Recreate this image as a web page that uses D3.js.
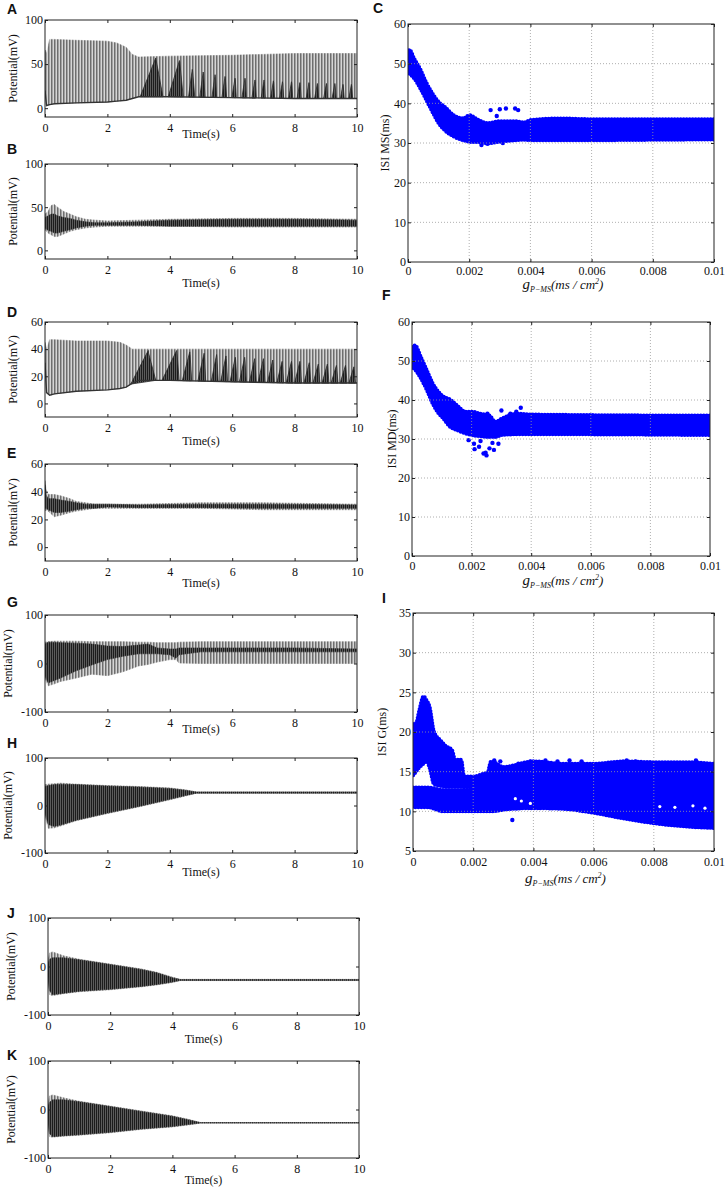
<!DOCTYPE html>
<html>
<head>
<meta charset="utf-8">
<style>
  body { margin: 0; background: #fff; }
  svg { display: block; }
  .tick text { font-family: "Liberation Serif", "Times New Roman", serif; font-size: 12px; }
</style>
<script src="https://d3js.org/d3.v7.min.js"></script>
</head>
<body>
<svg id="fig" width="728" height="1190"></svg>
<script>

// ---- tick labels ----
const timeTicks = [0, 2, 4, 6, 8, 10]
const gTicks = [0, 0.002, 0.004, 0.006, 0.008, 0.01]
const isiTicks = [0, 10, 20, 30, 40, 50, 60]
const isiGTicks = [5, 10, 15, 20, 25, 30, 35]

// ---- A : envelopes (time s, mV) and dark teeth [start, peak, end, peak mV] ----
const tA = [0, 0.05, 0.15, 0.3, 1.0, 2.0, 2.3, 2.6, 2.8, 3.0, 4.0, 6.0, 8.0, 10]
const aHi = [66, 62, 78, 78, 77, 76, 74, 69, 61, 58, 59, 60, 62, 62]
const aLo = [20, 3, 4, 5, 6, 7, 8, 9, 11, 13, 13, 12, 11, 11]
const aTeeth = [
  [3.05, 3.55, 3.78, 57], [3.95, 4.31, 4.43, 54], [4.6, 4.72, 4.8, 44], [4.96, 5.07, 5.13, 41],
  [5.35, 5.45, 5.5, 38], [5.67, 5.77, 5.82, 36], [5.99, 6.09, 6.13, 34], [6.31, 6.41, 6.45, 34],
  [6.63, 6.73, 6.77, 32], [6.93, 7.02, 7.06, 32], [7.23, 7.32, 7.36, 31], [7.52, 7.61, 7.65, 30],
  [7.81, 7.9, 7.94, 30], [8.08, 8.17, 8.21, 29], [8.37, 8.46, 8.5, 29], [8.64, 8.73, 8.77, 28],
  [8.93, 9.02, 9.06, 28], [9.2, 9.29, 9.33, 28], [9.47, 9.55, 9.59, 27], [9.74, 9.82, 9.86, 27]
]

// ---- B ----
const tB = [0, 0.1, 0.2, 0.3, 0.4, 0.6, 0.8, 1.0, 1.3, 1.6, 2.0, 3.0, 4.0, 6.0, 8.0, 10]
const bHi = [42, 45, 52, 53, 50, 45, 42, 39, 36, 35, 34, 35, 36, 37, 37, 36]
const bLo = [24, 20, 18, 16, 16, 19, 22, 24, 26, 27, 28, 28, 28, 27, 27, 27]
const bDkHi = [38, 40, 42, 42, 40, 38, 37, 35, 33, 32, 32, 33, 35, 36, 36, 35]
const bDkLo = [26, 23, 22, 20, 20, 22, 24, 26, 28, 29, 29, 29, 28, 28, 28, 28]

// ---- D ----
const tD = [0, 0.05, 0.15, 0.3, 1.0, 2.0, 2.4, 2.6, 2.8, 3.0, 4.0, 6.0, 8.0, 10]
const dHi = [45, 40, 47, 47, 46, 46, 45, 43, 40, 40, 40, 40, 40, 40]
const dLo = [30, 8, 6, 7, 9, 10, 11, 12, 15, 17, 17, 16, 15, 15]
const dTeeth = [
  [2.75, 3.31, 3.55, 39], [3.75, 4.22, 4.3, 39], [4.4, 4.64, 4.7, 38], [4.9, 5.1, 5.15, 37],
  [5.33, 5.5, 5.55, 36], [5.63, 5.8, 5.85, 35], [5.93, 6.1, 6.15, 34], [6.23, 6.4, 6.45, 34],
  [6.55, 6.72, 6.77, 33], [6.83, 7.0, 7.05, 33], [7.13, 7.3, 7.35, 32], [7.43, 7.6, 7.65, 31],
  [7.73, 7.9, 7.95, 31], [8.0, 8.17, 8.22, 31], [8.3, 8.47, 8.52, 30], [8.59, 8.76, 8.81, 29],
  [8.88, 9.05, 9.1, 29], [9.17, 9.34, 9.39, 28], [9.46, 9.63, 9.68, 28], [9.74, 9.9, 9.95, 27]
]

// ---- E ----
const tE = [0, 0.03, 0.1, 0.3, 0.5, 0.8, 1.0, 1.3, 1.6, 2.0, 3.0, 5.0, 7.0, 10]
const eHi = [48, 42, 38, 38, 37, 35, 33, 32, 31, 31, 31, 32, 32, 31]
const eLo = [26, 27, 26, 22, 23, 25, 26, 27, 28, 28, 28, 28, 27, 27]
const eDkHi = [45, 38, 35, 35, 34, 33, 32, 31, 31, 31, 30.5, 31, 31, 30.5]
const eDkLo = [28, 28, 27, 25, 25, 26, 27, 28, 28, 29, 28.5, 28.5, 28, 28]

// ---- G ----
const tG = [0, 0.1, 0.3, 0.5, 1.0, 1.5, 2.0, 2.5, 3.0, 3.3, 3.6, 4.0, 4.2, 4.3, 5.0, 6.0, 8.0, 10]
const gHi = [44, 45, 46, 46, 46, 45, 45, 45, 44, 44, 43, 43, 43, 44, 45, 45, 45, 45]
const gLo = [-30, -46, -42, -37, -30, -22, -25, -17, -5, -2, 3, 8, 8, 1, 0, 0, 0, 0]
const gDkHi = [40, 44, 44, 43, 42, 40, 36, 35, 38, 40, 32, 30, 30, 32, 32, 32, 32, 30]
const gDkLo = [-25, -40, -35, -30, -15, -3, 8, 15, 20, 20, 20, 18, 11, 18, 24, 24, 24, 24]

// ---- H ----
const tH = [0, 0.1, 0.3, 0.5, 1.0, 2.0, 3.0, 4.0, 4.5, 4.85, 5.0, 10]
const hHi = [44, 45, 46, 47, 45, 42, 40, 37, 33, 28.5, 28.5, 28.5]
const hLo = [-20, -48, -47, -43, -32, -17, -3, 12, 20, 26, 26, 26]
const hDkHi = [40, 42, 44, 45, 44, 41, 39, 36, 32, 28.5, 28.5, 28.5]
const hDkLo = [-15, -40, -44, -41, -31, -16, -2, 13, 21, 26, 26, 26]

// ---- J ----
const tJ = [0, 0.05, 0.15, 0.5, 1.0, 2.0, 3.0, 3.5, 4.0, 4.25, 10]
const jHi = [10, 28, 30, 22, 15, 5, -5, -12, -22, -26.5, -26.5]
const jLo = [-30, -58, -60, -56, -52, -48, -42, -38, -33, -29, -29]
const jDkHi = [5, 15, 18, 18, 14, 4, -6, -13, -23, -26.8, -26.8]
const jDkLo = [-20, -50, -58, -55, -51, -47, -41, -37, -32, -28.8, -28.8]

// ---- K ----
const tK = [0, 0.05, 0.15, 0.5, 1.0, 2.0, 3.0, 4.0, 4.5, 4.9, 10]
const kHi = [10, 28, 30, 24, 17, 7, -3, -13, -20, -27, -27]
const kLo = [-30, -56, -57, -55, -53, -48, -41, -36, -32, -28, -28]
const kDkHi = [5, 15, 20, 20, 16, 6, -4, -14, -21, -27, -27]
const kDkLo = [-20, -50, -56, -54, -52, -47, -40, -35, -31, -28, -28]

// ---- C : ISI MS band (g, ms) ----
const cG = [0, 0.00005, 0.0002, 0.0004, 0.0006, 0.0008, 0.001, 0.0012, 0.0015, 0.0018, 0.002, 0.0023, 0.0026, 0.003, 0.0035, 0.0038, 0.004, 0.005, 0.006, 0.008, 0.01]
const cHi = [52.6, 53.5, 51.3, 48.6, 45.2, 42.5, 40.4, 39.1, 37, 36.2, 37, 35.8, 35, 35.5, 35.5, 35.2, 35.8, 36.2, 36, 36, 36]
const cLo = [48, 47.5, 46.3, 43.8, 40.8, 37.8, 35, 33.2, 31.6, 30.7, 30.3, 30.2, 29.9, 30.3, 30.7, 30.8, 30.7, 30.7, 30.7, 30.8, 30.9]
const cOut = [[0.0024, 29.5], [0.0027, 38.3], [0.003, 38.5], [0.0032, 38.7], [0.0035, 38.7], [0.0036, 38.3], [0.0029, 36.8], [0.0026, 29.8], [0.0031, 30]]

// ---- F : ISI MD band ----
const fG = [0, 0.0001, 0.0003, 0.0005, 0.0007, 0.0009, 0.001, 0.0013, 0.0015, 0.0018, 0.002, 0.0023, 0.0026, 0.0028, 0.003, 0.0035, 0.004, 0.005, 0.01]
const fHi = [53.6, 54, 51, 47.6, 44.2, 42, 41.2, 40, 38.7, 37, 37, 36.5, 36, 34.4, 35.2, 36.5, 36.3, 36.2, 36]
const fLo = [48.5, 47.8, 45.5, 42.5, 39, 36.5, 35.7, 33, 32.3, 31.4, 31, 30.7, 30.5, 30.5, 31, 31.2, 31.2, 31.2, 31]
const fOut = [[0.0019, 29.7], [0.00208, 28.8], [0.00225, 28], [0.0024, 26.3], [0.00247, 26.5], [0.0025, 25.8], [0.0026, 27.6],
  [0.00275, 27.2], [0.0029, 28.8], [0.0021, 27.4], [0.0023, 29.5], [0.0027, 29], [0.00253, 36.5], [0.003, 37.3],
  [0.0033, 36.5], [0.00365, 38], [0.0035, 37]]

// ---- I : ISI G, main band and early hump ----
const iG = [0, 0.0005, 0.001, 0.0015, 0.002, 0.0024, 0.0026, 0.003, 0.004, 0.005, 0.006, 0.007, 0.008, 0.009, 0.01]
const iHi = [13, 13, 12.7, 12.7, 12.8, 13.5, 16.3, 15.6, 16.3, 16, 16, 16.3, 16.2, 16.2, 16]
const iLo = [10.5, 10.5, 10, 10, 10, 10, 10, 10.2, 10.4, 10.3, 9.8, 9.1, 8.5, 8.1, 7.9]
const iHumpG = [0, 0.0001, 0.0002, 0.00035, 0.00045, 0.00055, 0.0007, 0.0009, 0.0011, 0.0013, 0.0014, 0.0016, 0.0017, 0.002, 0.0024, 0.0026]
const iHumpHi = [21, 21.1, 22.6, 24.5, 24, 23.2, 20, 19, 18.2, 17.7, 16.5, 16.5, 14.4, 14.4, 14.8, 15]
const iHumpLo = [14.5, 15, 15.5, 16, 16.3, 15.5, 13.4, 13.2, 13.1, 13.1, 13.1, 13.1, 13.1, 13.2, 13.5, 14]
const iOut = [[0.0033, 8.9], [0.0027, 16.4], [0.0029, 16.3], [0.0035, 16.0], [0.0039, 16.3], [0.0044, 16.4], [0.0048, 16.3],
  [0.0052, 16.4], [0.0056, 16.3], [0.0071, 16.4], [0.0074, 16.3], [0.0094, 16.4]]
const iHoles = [[0.0082, 10.6], [0.0087, 10.5], [0.0093, 10.7], [0.0097, 10.4], [0.0034, 11.6], [0.0036, 11.3], [0.0039, 11.0]]

// ---- layout ----
const layout = {
  A: {x: 45, y: 20, w: 312, h: 97, lab: [7, 14], yl: 13, tl: 21},
  B: {x: 45, y: 164, w: 312, h: 95, lab: [7, 154], yl: 13, tl: 28},
  D: {x: 45, y: 322, w: 312, h: 95, lab: [7, 317], yl: 13, tl: 28},
  E: {x: 45, y: 464, w: 312, h: 97, lab: [7, 458], yl: 13, tl: 26},
  G: {x: 45, y: 615, w: 312, h: 97, lab: [7, 607], yl: 8, tl: 21},
  H: {x: 45, y: 758, w: 312, h: 95, lab: [7, 748], yl: 8, tl: 23},
  J: {x: 48, y: 918, w: 311, h: 97, lab: [7, 918], yl: 11, tl: 28},
  K: {x: 48, y: 1061, w: 311, h: 97, lab: [7, 1060], yl: 11, tl: 26},
  C: {x: 408, y: 24, w: 306, h: 238, lab: [373, 13], yl: 385, tl: 27},
  F: {x: 412, y: 322, w: 298, h: 234, lab: [382, 300], yl: 392, tl: 29},
  I: {x: 413, y: 613, w: 301, h: 238, lab: [382, 603], yl: 382, tl: 32}
}

const BLUE = '#0000ff'
const SERIF = '"Liberation Serif", "Times New Roman", serif'
const svg = d3.select('#fig')
const defs = svg.append('defs')

// vertical-line textures for the dense spike trains
const lp = defs.append('pattern').attr('id', 'lightPat').attr('patternUnits', 'userSpaceOnUse')
  .attr('width', 3).attr('height', 4)
lp.append('rect').attr('width', 3).attr('height', 4).attr('fill', '#d6d6d6')
lp.append('rect').attr('width', 1).attr('height', 4).attr('fill', '#6e6e6e')
lp.append('rect').attr('x', 1).attr('width', 1).attr('height', 4).attr('fill', '#a2a2a2')
const dp = defs.append('pattern').attr('id', 'darkPat').attr('patternUnits', 'userSpaceOnUse')
  .attr('width', 2).attr('height', 4)
dp.append('rect').attr('width', 2).attr('height', 4).attr('fill', '#5c5c5c')
dp.append('rect').attr('width', 1).attr('height', 4).attr('fill', '#1c1c1c')

function panel(key) {
  let L = layout[key]
  let g = svg.append('g').attr('transform', `translate(${L.x},${L.y})`)
  defs.append('clipPath').attr('id', 'clip' + key)
    .append('rect').attr('width', L.w).attr('height', L.h)
  svg.append('text').attr('x', L.lab[0]).attr('y', L.lab[1]).text(key)
    .attr('font-family', 'Arial, "Liberation Sans", sans-serif').attr('font-weight', 'bold')
    .attr('font-size', 14).attr('fill', '#111')
  let plot = g.append('g').attr('clip-path', `url(#clip${key})`)
  return {L, g, plot}
}

function axes(g, L, x, y, xTicks, yTicks, xPad) {
  let fmt = d => String(d)
  let ax = g.append('g').attr('font-family', SERIF).attr('font-size', 12)
  ax.append('g').attr('transform', `translate(0,${L.h})`)
    .call(d3.axisBottom(x).tickValues(xTicks).tickSizeInner(-3).tickSizeOuter(0).tickPadding(xPad).tickFormat(fmt))
  ax.append('g')
    .call(d3.axisTop(x).tickValues(xTicks).tickSizeInner(-3).tickSizeOuter(0).tickFormat(''))
  ax.append('g')
    .call(d3.axisLeft(y).tickValues(yTicks).tickSizeInner(-3).tickSizeOuter(0).tickPadding(2).tickFormat(fmt))
  ax.append('g').attr('transform', `translate(${L.w},0)`)
    .call(d3.axisRight(y).tickValues(yTicks).tickSizeInner(-3).tickSizeOuter(0).tickFormat(''))
  ax.selectAll('g').attr('font-family', SERIF).attr('font-size', 12)
  ax.selectAll('.domain').remove()
  ax.selectAll('.tick line').attr('stroke', '#222')
  ax.selectAll('.tick text').style('font-family', SERIF).style('font-size', '12px').attr('fill', '#111')
  g.append('rect').attr('width', L.w).attr('height', L.h)
    .attr('fill', 'none').attr('stroke', '#222').attr('stroke-width', 1)
}

function yLabel(gx, text, cy) {
  svg.append('text').attr('transform', `translate(${gx},${cy}) rotate(-90)`)
    .attr('text-anchor', 'middle').attr('dominant-baseline', 'central')
    .attr('font-family', SERIF).attr('font-size', 12).attr('fill', '#111').text(text)
}

function band(plot, x, y, t, hi, lo, fill) {
  let area = d3.area()
    .x((d, i) => x(t[i]))
    .y0((d, i) => y(lo[i]))
    .y1((d, i) => y(hi[i]))
  plot.append('path').datum(t).attr('d', area).attr('fill', fill)
    .attr('stroke', fill).attr('stroke-width', 0.6)
}

// ---- time traces ----
const traces = [
  {key: 'A', dom: [-10, 100], ticks: [0, 50, 100], t: tA, hi: aHi, lo: aLo, teeth: aTeeth},
  {key: 'B', dom: [-10, 100], ticks: [0, 50, 100], t: tB, hi: bHi, lo: bLo, dkHi: bDkHi, dkLo: bDkLo},
  {key: 'D', dom: [-10, 60], ticks: [0, 20, 40, 60], t: tD, hi: dHi, lo: dLo, teeth: dTeeth},
  {key: 'E', dom: [-10, 60], ticks: [0, 20, 40, 60], t: tE, hi: eHi, lo: eLo, dkHi: eDkHi, dkLo: eDkLo},
  {key: 'G', dom: [-100, 100], ticks: [-100, 0, 100], t: tG, hi: gHi, lo: gLo, dkHi: gDkHi, dkLo: gDkLo},
  {key: 'H', dom: [-100, 100], ticks: [-100, 0, 100], t: tH, hi: hHi, lo: hLo, dkHi: hDkHi, dkLo: hDkLo},
  {key: 'J', dom: [-100, 100], ticks: [-100, 0, 100], t: tJ, hi: jHi, lo: jLo, dkHi: jDkHi, dkLo: jDkLo},
  {key: 'K', dom: [-100, 100], ticks: [-100, 0, 100], t: tK, hi: kHi, lo: kLo, dkHi: kDkHi, dkLo: kDkLo}
]

traces.forEach(tr => {
  let {L, g, plot} = panel(tr.key)
  let x = d3.scaleLinear().domain([0, 10]).range([0, L.w])
  let y = d3.scaleLinear().domain(tr.dom).range([L.h, 0])
  band(plot, x, y, tr.t, tr.hi, tr.lo, 'url(#lightPat)')
  if (tr.dkHi) band(plot, x, y, tr.t, tr.dkHi, tr.dkLo, 'url(#darkPat)')
  if (tr.teeth) {
    let base = d3.scaleLinear().domain(tr.t).range(tr.lo)
    let line = d3.line().x(d => x(d[0])).y(d => y(d[1]))
    tr.teeth.forEach(([s, p, e, v]) => {
      plot.append('path')
        .attr('d', line([[s, base(s)], [p, v], [p + 0.01, v - 2], [e, base(e)]]) + 'Z')
        .attr('fill', 'url(#darkPat)').attr('stroke', '#2a2a2a').attr('stroke-width', 0.8)
    })
    plot.append('path').datum(tr.t)
      .attr('d', d3.line().x((d, i) => x(tr.t[i])).y((d, i) => y(tr.lo[i])))
      .attr('fill', 'none').attr('stroke', '#333').attr('stroke-width', 1.4)
  }
  axes(g, L, x, y, timeTicks, tr.ticks, 6.5)
  yLabel(L.yl, 'Potential(mV)', L.y + L.h / 2)
  svg.append('text').attr('x', L.x + L.w / 2).attr('y', L.y + L.h + L.tl)
    .attr('text-anchor', 'middle').attr('font-family', SERIF).attr('font-size', 12)
    .attr('fill', '#111').text('Time(s)')
})

// ---- ISI scatter panels ----
const scatters = [
  {key: 'C', dom: [0, 60], ticks: isiTicks, label: 'ISI MS(ms)',
    bands: [[cG, cHi, cLo]], out: cOut, holes: [], pad: 4.5},
  {key: 'F', dom: [0, 60], ticks: isiTicks, label: 'ISI MD(ms)',
    bands: [[fG, fHi, fLo]], out: fOut, holes: [], pad: 5.5},
  {key: 'I', dom: [5, 35], ticks: isiGTicks, label: 'ISI G(ms)',
    bands: [[iG, iHi, iLo], [iHumpG, iHumpHi, iHumpLo]], out: iOut, holes: iHoles, pad: 6.5}
]

scatters.forEach(sc => {
  let {L, g, plot} = panel(sc.key)
  let x = d3.scaleLinear().domain([0, 0.01]).range([0, L.w])
  let y = d3.scaleLinear().domain(sc.dom).range([L.h, 0])
  let grid = g.append('g').attr('stroke', '#9a9a9a').attr('stroke-width', 0.8).attr('stroke-dasharray', '1,2')
  grid.selectAll('.gx').data(gTicks.slice(1, -1)).enter().append('line')
    .attr('x1', d => x(d)).attr('x2', d => x(d)).attr('y1', 0).attr('y2', L.h)
  grid.selectAll('.gy').data(sc.ticks.slice(1, -1)).enter().append('line')
    .attr('y1', d => y(d)).attr('y2', d => y(d)).attr('x1', 0).attr('x2', L.w)
  sc.bands.forEach(([gv, hi, lo]) => {
    let area = d3.area().curve(d3.curveMonotoneX)
      .x((d, i) => x(gv[i])).y0((d, i) => y(lo[i])).y1((d, i) => y(hi[i]))
    plot.append('path').datum(gv).attr('d', area).attr('fill', BLUE)
      .attr('stroke', BLUE).attr('stroke-width', 4).attr('stroke-linecap', 'round')
      .attr('stroke-dasharray', '0 3')
  })
  plot.selectAll('.hole').data(sc.holes).enter().append('circle')
    .attr('cx', d => x(d[0])).attr('cy', d => y(d[1])).attr('r', 1.6).attr('fill', '#fff')
  plot.selectAll('.out').data(sc.out).enter().append('circle')
    .attr('cx', d => x(d[0])).attr('cy', d => y(d[1])).attr('r', 2.2).attr('fill', BLUE)
  axes(g, L, x, y, gTicks, sc.ticks, sc.pad)
  yLabel(L.yl, sc.label, L.y + L.h / 2)
  let t = svg.append('text').attr('x', L.x + L.w / 2 + 2).attr('y', L.y + L.h + L.tl)
    .attr('text-anchor', 'middle').attr('font-family', SERIF).attr('font-style', 'italic').attr('fill', '#111')
  t.append('tspan').attr('font-size', 15).text('g')
  t.append('tspan').attr('font-size', 8).attr('dy', 3).text('P\u2212MS')
  t.append('tspan').attr('font-size', 13).attr('dy', -3).text('(ms / cm')
  t.append('tspan').attr('font-size', 8).attr('dy', -5).text('2')
  t.append('tspan').attr('font-size', 13).attr('dy', 5).text(')')
})

</script>
</body>
</html>
